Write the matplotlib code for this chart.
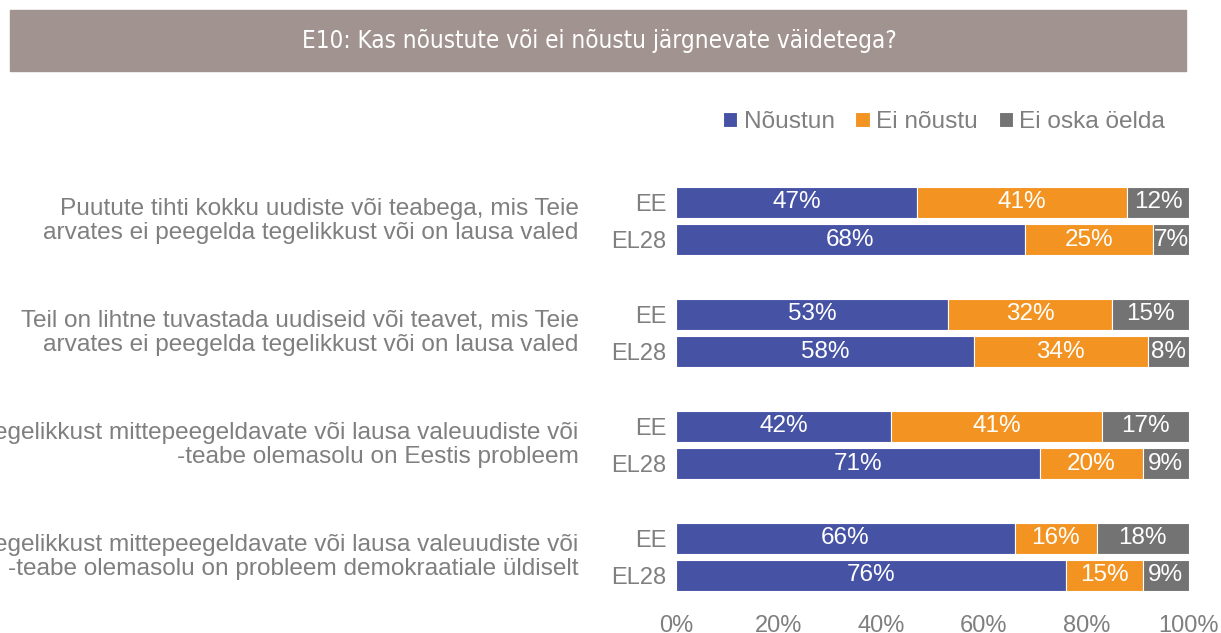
import matplotlib.pyplot as plt
from matplotlib.patches import Rectangle
import numpy as np

plt.rcParams['font.family'] = ['Liberation Sans', 'DejaVu Sans']

# küsimus ja väited
title = "E10: Kas nõustute või ei nõustu järgnevate väidetega?"
statements = [
    "Puutute tihti kokku uudiste või teabega, mis Teie\narvates ei peegelda tegelikkust või on lausa valed",
    "Teil on lihtne tuvastada uudiseid või teavet, mis Teie\narvates ei peegelda tegelikkust või on lausa valed",
    "Tegelikkust mittepeegeldavate või lausa valeuudiste või\n-teabe olemasolu on Eestis probleem",
    "Tegelikkust mittepeegeldavate või lausa valeuudiste või\n-teabe olemasolu on probleem demokraatiale üldiselt",
]
regions = ["EE", "EL28"]
series = ["Nõustun", "Ei nõustu", "Ei oska öelda"]

# väärtused (%), järjekord: väide1 EE, väide1 EL28, väide2 EE, ...
noustun = [47, 68, 53, 58, 42, 71, 66, 76]
ei_noustu = [41, 25, 32, 34, 41, 20, 16, 15]
ei_oska = [12, 7, 15, 8, 17, 9, 18, 9]
xticks = [0, 20, 40, 60, 80, 100]

colors = ["#4653A5", "#F39321", "#737373"]
grey = "#7F7F7F"

W, H = 1221, 633
fig = plt.figure(figsize=(W / 100, H / 100), dpi=100)

# pealkirja riba
fig.patches.append(Rectangle((10 / W, 1 - 71 / H), 1176 / W, 61 / H,
                             transform=fig.transFigure, color="#A1938F", zorder=0))
fig.text(599 / W, 1 - 41 / H, title, color="white", fontsize=17.4,
         ha="center", va="center", family=["DejaVu Sans"], fontstretch="condensed")

ax = fig.add_axes([676 / W, 0.0378, 513 / W, 0.6954])

ypos = []
for g in range(len(statements)):
    ypos += [g * 3, g * 3 + 1]
ypos = np.array(ypos)

left = np.zeros(len(ypos))
for vals, col, name in zip([noustun, ei_noustu, ei_oska], colors, series):
    vals = np.array(vals)
    ax.barh(ypos, vals, left=left, height=0.83, color=col, edgecolor="white",
            linewidth=0.8, label=name)
    for y, l, v in zip(ypos, left, vals):
        ax.text(l + v / 2, y, f"{v}%", ha="center", va="center",
                color="white", fontsize=17.5)
    left += vals

ax.set_xlim(0, 100)
ax.set_ylim(ypos[-1] + 0.9, -0.9)
ax.set_yticks(ypos)
ax.set_yticklabels(regions * len(statements))
ax.set_xticks(xticks)
ax.set_xticklabels([f"{t}%" for t in xticks])
ax.tick_params(axis="both", length=0, colors=grey, labelsize=17)
ax.tick_params(axis="y", pad=7)
ax.tick_params(axis="x", pad=4)
for s in ax.spines.values():
    s.set_visible(False)

# väidete tekstid vasakul (pikemad lõigatakse vasakust servast nagu originaalis)
for g, txt in enumerate(statements):
    ax.text(-0.19, g * 3 + 0.5, txt, transform=ax.get_yaxis_transform(),
            ha="right", va="center", color=grey, fontsize=17.6, linespacing=1.15)

ax.legend(loc="center", bbox_to_anchor=(944 / W, 1 - 122 / H),
          bbox_transform=fig.transFigure, ncol=3, frameon=False,
          fontsize=17.6, labelcolor=grey, handlelength=0.6, handleheight=0.6,
          handletextpad=0.25, columnspacing=0.85)

fig.savefig("out.png", dpi=100)
